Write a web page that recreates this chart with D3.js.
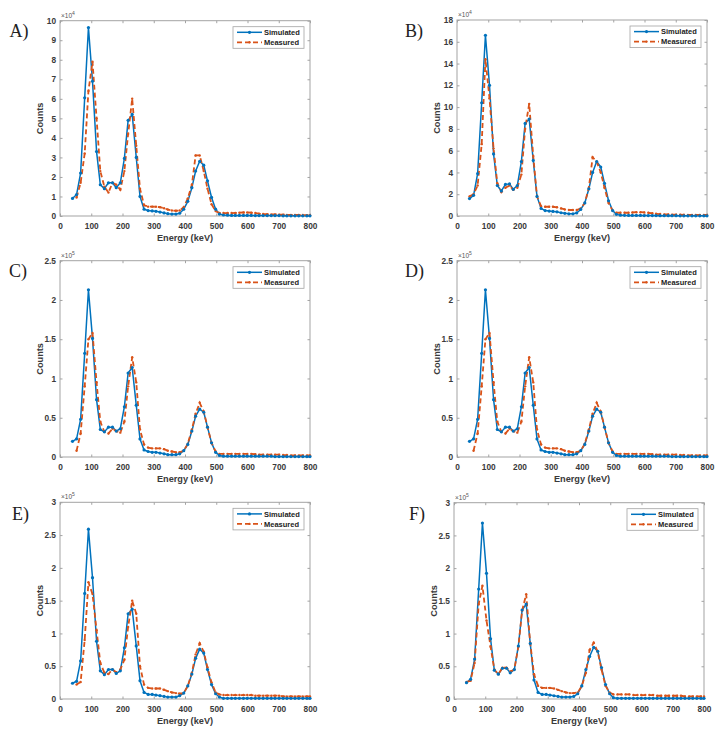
<!DOCTYPE html>
<html>
<head>
<meta charset="utf-8">
<script src="https://cdn.jsdelivr.net/npm/d3@7"></script>
<style>
  html, body { margin: 0; padding: 0; background: #fff; }
  svg { display: block; }
</style>
</head>
<body>
<svg id="chart" width="727" height="734"></svg>
<script>
// Energy grid (keV)
const energy = [40,53,66,79,91,104,117,129,142,155,168,180,193,206,218,231,244,256,269,282,295,307,320,333,345,358,371,383,396,409,422,434,447,460,472,485,498,510,523,536,549,561,574,587,599,612,625,637,650,663,676,688,701,714,726,739,752,764,777,790,800];

// Panel A (x10^4)
const simA = [0.9,1.1,2.2,6.05,9.65,6.9,3.3,1.6,1.4,1.7,1.7,1.45,1.7,2.95,4.9,5.2,3.0,1.0,0.35,0.28,0.26,0.24,0.2,0.16,0.12,0.1,0.1,0.14,0.35,0.75,1.45,2.3,2.8,2.6,1.8,0.95,0.35,0.1,0.05,0.04,0.03,0.03,0.03,0.03,0.03,0.03,0.02,0.02,0.02,0.02,0.02,0.02,0.02,0.01,0.01,0.01,0.01,0.01,0.01,0.01,0.01];
const measA = [null,0.95,1.7,3.2,6.4,7.9,5.0,2.3,1.5,1.2,1.7,1.6,1.35,2.3,4.2,6.0,3.6,1.4,0.55,0.48,0.48,0.47,0.45,0.4,0.33,0.28,0.27,0.28,0.45,0.9,1.6,3.1,3.1,2.3,1.4,0.6,0.25,0.15,0.15,0.15,0.15,0.16,0.17,0.18,0.18,0.17,0.15,0.12,0.1,0.09,0.08,0.08,0.07,0.07,0.06,0.06,0.05,0.05,0.05,0.04,0.04];

// Panel B (x10^4)
const simB = [1.6,1.9,3.9,10.4,16.6,12.0,5.7,2.8,2.3,2.9,2.95,2.45,2.8,5.0,8.5,8.9,5.1,1.8,0.7,0.5,0.45,0.42,0.38,0.3,0.25,0.2,0.2,0.28,0.6,1.2,2.5,4.0,5.0,4.5,3.0,1.4,0.5,0.15,0.08,0.06,0.05,0.05,0.05,0.05,0.04,0.04,0.04,0.04,0.03,0.03,0.03,0.03,0.03,0.02,0.02,0.02,0.02,0.02,0.02,0.02,0.02];
const measB = [1.8,2.0,2.8,6.6,14.4,10.8,6.2,3.0,2.2,2.6,2.8,2.4,2.6,3.8,8.0,10.3,5.5,1.8,0.9,0.85,0.85,0.85,0.8,0.7,0.6,0.55,0.55,0.55,0.7,1.2,2.6,5.4,5.0,4.0,2.6,1.2,0.5,0.3,0.3,0.3,0.3,0.32,0.35,0.35,0.33,0.3,0.25,0.2,0.18,0.15,0.14,0.13,0.12,0.12,0.11,0.1,0.1,0.1,0.1,0.09,0.09];

// Panel C (x10^5)
const simC = [0.2,0.23,0.48,1.32,2.13,1.51,0.73,0.35,0.32,0.38,0.38,0.33,0.36,0.64,1.07,1.14,0.66,0.23,0.09,0.07,0.06,0.06,0.05,0.04,0.03,0.03,0.03,0.04,0.08,0.16,0.33,0.52,0.61,0.57,0.38,0.18,0.06,0.02,0.01,0.01,0.01,0.01,0.01,0.01,0.01,0.01,0.01,0.01,0.01,0.01,0.01,0.005,0.005,0.005,0.005,0.005,0.005,0.005,0.005,0.005,0.005];
const measC = [null,0.08,0.3,0.9,1.5,1.58,0.95,0.45,0.32,0.3,0.36,0.33,0.31,0.45,0.9,1.27,0.95,0.35,0.16,0.12,0.11,0.11,0.11,0.1,0.08,0.07,0.06,0.06,0.08,0.17,0.35,0.55,0.69,0.58,0.38,0.18,0.07,0.04,0.04,0.04,0.04,0.04,0.04,0.04,0.04,0.04,0.035,0.03,0.03,0.03,0.03,0.03,0.03,0.025,0.025,0.02,0.02,0.02,0.02,0.02,0.02];

// Panel D (x10^5)
const simD = [0.2,0.23,0.48,1.32,2.13,1.51,0.73,0.35,0.32,0.38,0.38,0.33,0.36,0.64,1.07,1.14,0.66,0.23,0.09,0.07,0.06,0.06,0.05,0.04,0.03,0.03,0.03,0.04,0.08,0.16,0.33,0.52,0.61,0.57,0.38,0.18,0.06,0.02,0.01,0.01,0.01,0.01,0.01,0.01,0.01,0.01,0.01,0.01,0.01,0.01,0.01,0.005,0.005,0.005,0.005,0.005,0.005,0.005,0.005,0.005,0.005];
const measD = [null,0.08,0.3,0.9,1.5,1.58,0.95,0.45,0.32,0.3,0.36,0.33,0.31,0.45,0.9,1.27,0.95,0.35,0.16,0.12,0.11,0.11,0.11,0.1,0.08,0.07,0.06,0.06,0.08,0.17,0.35,0.55,0.69,0.58,0.38,0.18,0.07,0.04,0.04,0.04,0.04,0.04,0.04,0.04,0.04,0.04,0.035,0.03,0.03,0.03,0.03,0.03,0.03,0.025,0.025,0.02,0.02,0.02,0.02,0.02,0.02];

// Panel E (x10^5)
const simE = [0.24,0.27,0.58,1.61,2.59,1.85,0.88,0.43,0.37,0.45,0.45,0.39,0.43,0.78,1.3,1.37,0.81,0.28,0.1,0.07,0.07,0.06,0.05,0.04,0.03,0.03,0.03,0.05,0.09,0.2,0.38,0.62,0.76,0.7,0.45,0.22,0.08,0.03,0.01,0.01,0.01,0.01,0.01,0.01,0.01,0.01,0.01,0.01,0.01,0.01,0.01,0.01,0.01,0.01,0.01,0.01,0.01,0.01,0.01,0.01,0.01];
const measE = [null,0.22,0.26,0.9,1.78,1.6,1.05,0.55,0.4,0.38,0.45,0.41,0.45,0.6,1.1,1.5,1.3,0.5,0.22,0.17,0.16,0.16,0.16,0.14,0.12,0.1,0.09,0.08,0.09,0.2,0.4,0.68,0.85,0.72,0.48,0.25,0.1,0.07,0.06,0.06,0.06,0.06,0.06,0.06,0.06,0.06,0.05,0.05,0.05,0.05,0.05,0.05,0.05,0.04,0.04,0.04,0.04,0.04,0.04,0.04,0.04];

// Panel F (x10^5)
const simF = [0.25,0.3,0.61,1.68,2.69,1.92,0.92,0.44,0.38,0.47,0.47,0.4,0.45,0.81,1.36,1.45,0.85,0.29,0.1,0.07,0.07,0.06,0.05,0.04,0.03,0.03,0.03,0.04,0.08,0.2,0.45,0.65,0.79,0.73,0.48,0.22,0.08,0.02,0.01,0.01,0.01,0.01,0.01,0.01,0.01,0.01,0.01,0.01,0.01,0.01,0.01,0.01,0.01,0.01,0.01,0.01,0.01,0.01,0.01,0.01,0.01];
const measF = [0.26,0.28,0.55,1.45,1.73,1.2,0.8,0.45,0.38,0.48,0.48,0.42,0.45,0.8,1.35,1.6,0.85,0.38,0.2,0.17,0.17,0.17,0.16,0.14,0.12,0.1,0.09,0.09,0.1,0.2,0.4,0.75,0.86,0.72,0.45,0.2,0.1,0.07,0.07,0.07,0.07,0.07,0.06,0.06,0.06,0.06,0.06,0.06,0.05,0.05,0.05,0.05,0.05,0.05,0.05,0.04,0.04,0.04,0.04,0.04,0.04];

// Tick labels
const xTicks = [0,100,200,300,400,500,600,700,800];
const yTicksA = [0,1,2,3,4,5,6,7,8,9,10];
const yTicksB = [0,2,4,6,8,10,12,14,16,18];
const yTicksCD = [0,0.5,1,1.5,2,2.5];
const yTicksEF = [0,0.5,1,1.5,2,2.5,3];
const panelLabels = ["A)","B)","C)","D)","E)","F)"];
const exponents = ["4","4","5","5","5","5"];
const seriesNames = ["Simulated","Measured"];

const blue = "#0072BD", orange = "#D95319";
const axisColor = "#a3a3a3", textColor = "#3a3a3a";

const panels = [
  {sim: simA, meas: measA, yTicks: yTicksA, box:[60,310,20.7,216], lab:[9.5,37]},
  {sim: simB, meas: measB, yTicks: yTicksB, box:[457,707,20,216], lab:[405,37]},
  {sim: simC, meas: measC, yTicks: yTicksCD, box:[60,310,260.7,457], lab:[9,277]},
  {sim: simD, meas: measD, yTicks: yTicksCD, box:[457,707,260.7,457], lab:[405,277]},
  {sim: simE, meas: measE, yTicks: yTicksEF, box:[60,310,502.3,699], lab:[12,520]},
  {sim: simF, meas: measF, yTicks: yTicksEF, box:[454,704,502.7,699], lab:[409,520]}
];

const svg = d3.select("#chart");
const sans = "'Liberation Sans', Arial, Helvetica, sans-serif";

panels.forEach((p, i) => {
  const [x0, x1, y0, y1] = p.box;
  const yMax = p.yTicks[p.yTicks.length - 1];
  const x = d3.scaleLinear().domain([0, 800]).range([x0, x1]);
  const y = d3.scaleLinear().domain([0, yMax]).range([y1, y0]);
  const g = svg.append("g");

  // frame
  g.append("rect").attr("x", x0).attr("y", y0).attr("width", x1 - x0).attr("height", y1 - y0)
    .attr("fill", "#fff").attr("stroke", axisColor).attr("stroke-width", 1);

  // axes (bottom/left with labels, top/right mirrored ticks)
  const tl = 2.5;
  const axB = g.append("g").attr("transform", `translate(0,${y1})`)
    .call(d3.axisBottom(x).tickValues(xTicks).tickSizeInner(-tl).tickSizeOuter(0).tickPadding(5));
  const axT = g.append("g").attr("transform", `translate(0,${y0})`)
    .call(d3.axisTop(x).tickValues(xTicks).tickSizeInner(-tl).tickSizeOuter(0).tickFormat(""));
  const axL = g.append("g").attr("transform", `translate(${x0},0)`)
    .call(d3.axisLeft(y).tickValues(p.yTicks).tickSizeInner(-tl).tickSizeOuter(0).tickPadding(4).tickFormat(d3.format("")));
  const axR = g.append("g").attr("transform", `translate(${x1},0)`)
    .call(d3.axisRight(y).tickValues(p.yTicks).tickSizeInner(-tl).tickSizeOuter(0).tickFormat(""));
  [axB, axT, axL, axR].forEach(a => {
    a.select(".domain").remove();
    a.selectAll(".tick line").attr("stroke", axisColor);
    a.selectAll("text").attr("fill", textColor).attr("font-family", sans)
      .attr("font-size", 8.3).attr("font-weight", "bold");
  });
  axB.selectAll("text").attr("dy", "0.95em");

  // exponent
  const ex = g.append("text").attr("x", x0 + 1).attr("y", y0 - 3)
    .attr("font-family", sans).attr("font-size", 6.5).attr("fill", "#555");
  ex.append("tspan").text("×10");
  ex.append("tspan").attr("dy", -3).attr("font-size", 5).text(exponents[i]);

  // axis labels
  g.append("text").attr("x", (x0 + x1) / 2).attr("y", y1 + 25)
    .attr("text-anchor", "middle").attr("font-family", sans).attr("font-weight", "bold")
    .attr("font-size", 9.2).attr("fill", textColor).text("Energy (keV)");
  g.append("text").attr("transform", `translate(${x0 - 17},${(y0 + y1) / 2}) rotate(-90)`)
    .attr("text-anchor", "middle").attr("font-family", sans).attr("font-weight", "bold")
    .attr("font-size", 9.2).attr("fill", textColor).text("Counts");

  // panel letter
  g.append("text").attr("x", p.lab[0]).attr("y", p.lab[1])
    .attr("font-family", "'Liberation Serif', 'DejaVu Serif', serif").attr("font-size", 18)
    .attr("fill", "#222").text(panelLabels[i]);

  // lines
  const line = d3.line().defined(d => d[1] != null).x(d => x(d[0])).y(d => y(d[1]));
  const simPts = energy.map((e, k) => [e, p.sim[k]]);
  const measPts = energy.map((e, k) => [e, p.meas[k]]);

  g.append("path").datum(simPts).attr("d", line).attr("fill", "none")
    .attr("stroke", blue).attr("stroke-width", 1.5).attr("stroke-linejoin", "round");
  g.append("path").datum(measPts).attr("d", line).attr("fill", "none")
    .attr("stroke", orange).attr("stroke-width", 1.8).attr("stroke-dasharray", "5,3");

  g.selectAll(".ms").data(measPts.filter(d => d[1] != null)).join("circle")
    .attr("cx", d => x(d[0])).attr("cy", d => y(d[1])).attr("r", 1.2).attr("fill", orange);
  g.selectAll(".ss").data(simPts.filter(d => d[1] != null)).join("circle")
    .attr("cx", d => x(d[0])).attr("cy", d => y(d[1])).attr("r", 1.6).attr("fill", blue);

  // legend
  const lw = 71, lh = 21.6;
  const lx = x1 - 6 - lw, ly = y0 + 6;
  const lg = g.append("g").attr("transform", `translate(${lx},${ly})`);
  lg.append("rect").attr("width", lw).attr("height", lh).attr("fill", "#fff")
    .attr("stroke", axisColor).attr("stroke-width", 0.8);
  [0, 1].forEach(k => {
    const yy = 5.6 + k * 10;
    const col = k === 0 ? blue : orange;
    lg.append("line").attr("x1", 4).attr("x2", 29).attr("y1", yy).attr("y2", yy)
      .attr("stroke", col).attr("stroke-width", k === 0 ? 1.5 : 1.8)
      .attr("stroke-dasharray", k === 0 ? null : "5,3");
    lg.append("circle").attr("cx", 16.5).attr("cy", yy).attr("r", k === 0 ? 1.6 : 1.2).attr("fill", col);
    lg.append("text").attr("x", 31).attr("y", yy + 2.7).attr("font-family", sans)
      .attr("font-weight", "bold").attr("font-size", 7.5).attr("fill", "#222").text(seriesNames[k]);
  });
});
</script>
</body>
</html>
